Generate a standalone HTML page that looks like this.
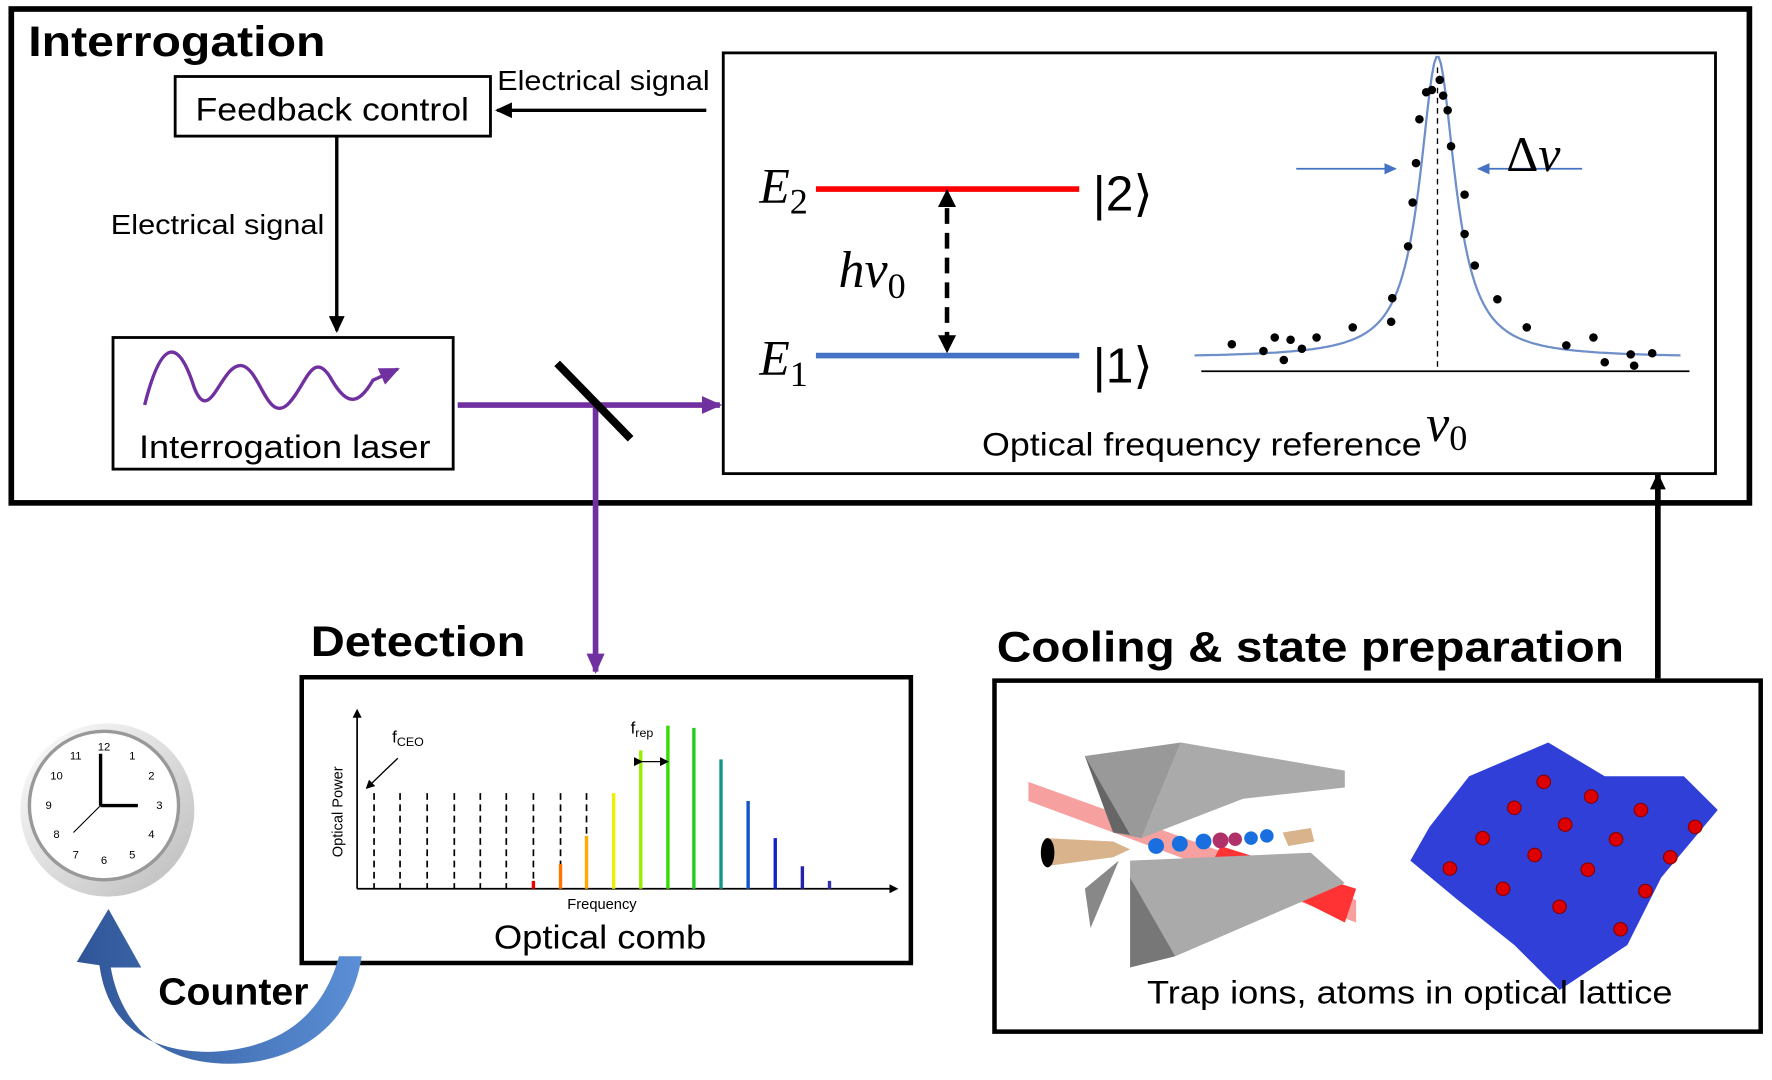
<!DOCTYPE html>
<html><head><meta charset="utf-8"><style>
html,body{margin:0;padding:0;background:#fff;}
svg{display:block;}
text{font-family:"Liberation Sans","Noto Sans CJK SC",sans-serif;}
.m{font-family:"Liberation Serif",serif;font-style:italic;}
</style></head><body>
<svg width="1772" height="1080" viewBox="0 0 1568 960" preserveAspectRatio="none" xmlns="http://www.w3.org/2000/svg">
<defs>
<marker id="ab" markerWidth="8" markerHeight="8" refX="6" refY="4" orient="auto" markerUnits="userSpaceOnUse"><path d="M0,0 L8,4 L0,8 z" fill="#000"/></marker>
<marker id="ap" markerWidth="20" markerHeight="20" refX="16" refY="10" orient="auto" markerUnits="userSpaceOnUse"><path d="M0,2 L18,10 L0,18 z" fill="#7030a0"/></marker>
<marker id="ak" markerWidth="16" markerHeight="16" refX="13" refY="8" orient="auto" markerUnits="userSpaceOnUse"><path d="M0,1 L15,8 L0,15 z" fill="#000"/></marker>
<marker id="abl" markerWidth="12" markerHeight="12" refX="10" refY="6" orient="auto" markerUnits="userSpaceOnUse"><path d="M0,1 L11,6 L0,11 z" fill="#4472c4"/></marker>
<linearGradient id="cg" x1="0" y1="0" x2="1" y2="1"><stop offset="0" stop-color="#fff"/><stop offset="1" stop-color="#bbb"/></linearGradient>
<linearGradient id="blue" x1="0" y1="0" x2="1" y2="0"><stop offset="0" stop-color="#2f5597"/><stop offset="1" stop-color="#5b8fd6"/></linearGradient>
</defs>
<rect x="10" y="8" width="1538" height="439" fill="none" stroke="#000" stroke-width="5"/>
<text x="25" y="50" font-size="38" font-weight="bold" textLength="263" lengthAdjust="spacingAndGlyphs">Interrogation</text>
<rect x="155" y="68" width="279" height="53" fill="none" stroke="#000" stroke-width="2.5"/>
<text x="173" y="107" font-size="29" textLength="242" lengthAdjust="spacingAndGlyphs">Feedback control</text>
<text x="440" y="80" font-size="25" textLength="188" lengthAdjust="spacingAndGlyphs">Electrical signal</text>
<line x1="625" y1="98" x2="440" y2="98" stroke="#000" stroke-width="3" marker-end="url(#ak)"/>
<line x1="298" y1="121" x2="298" y2="294" stroke="#000" stroke-width="3" marker-end="url(#ak)"/>
<text x="98" y="208" font-size="25" textLength="189" lengthAdjust="spacingAndGlyphs">Electrical signal</text>
<rect x="100" y="300" width="301" height="117" fill="none" stroke="#000" stroke-width="2.5"/>
<path d="M128,360 C143,300 158,300 172,345 C186,380 196,322 214,325 C230,328 236,375 254,360 C270,345 276,310 292,335 C306,360 316,362 330,338 L352,328" fill="none" stroke="#7030a0" stroke-width="3" marker-end="url(#ap)"/>
<text x="123" y="407" font-size="29" textLength="258" lengthAdjust="spacingAndGlyphs">Interrogation laser</text>
<line x1="405" y1="360" x2="637" y2="360" stroke="#7030a0" stroke-width="5" marker-end="url(#ap)"/>
<line x1="527" y1="360" x2="527" y2="597" stroke="#7030a0" stroke-width="5" marker-end="url(#ap)"/>
<line x1="493" y1="323" x2="558" y2="390" stroke="#000" stroke-width="7"/>
<rect x="640" y="47" width="878" height="374" fill="none" stroke="#000" stroke-width="2.5"/>
<line x1="722" y1="168" x2="955" y2="168" stroke="#f00" stroke-width="5"/>
<line x1="722" y1="316" x2="955" y2="316" stroke="#4472c4" stroke-width="5"/>
<text x="672" y="180" font-size="44" class="m">E<tspan font-size="32" dy="10" font-style="normal">2</tspan></text>
<text x="672" y="333" font-size="44" class="m">E<tspan font-size="32" dy="10" font-style="normal">1</tspan></text>
<text x="967" y="187" font-size="44" font-family="Liberation Serif">|2⟩</text>
<text x="967" y="340" font-size="44" font-family="Liberation Serif">|1⟩</text>
<text x="742" y="255" font-size="46" class="m">hν<tspan font-size="32" dy="10" font-style="normal">0</tspan></text>
<line x1="838" y1="185" x2="838" y2="300" stroke="#000" stroke-width="4" stroke-dasharray="14,8"/>
<path d="M838,168 l-8,16 h16 z M838,314 l-8,-16 h16 z" fill="#000"/>
<line x1="1063" y1="330" x2="1495" y2="330" stroke="#000" stroke-width="1.5"/>
<line x1="1272" y1="60" x2="1272" y2="330" stroke="#000" stroke-width="1.2" stroke-dasharray="5,4"/>
<path id="lor" fill="none" stroke="#6f8fc8" stroke-width="2"/>
<g fill="#000">
<circle cx="1090" cy="306" r="3.8"/><circle cx="1118" cy="312" r="3.8"/><circle cx="1128" cy="300" r="3.8"/><circle cx="1136" cy="320" r="3.8"/><circle cx="1142" cy="302" r="3.8"/><circle cx="1152" cy="310" r="3.8"/><circle cx="1165" cy="300" r="3.8"/><circle cx="1197" cy="291" r="3.8"/><circle cx="1231" cy="286" r="3.8"/><circle cx="1232" cy="265" r="3.8"/><circle cx="1246" cy="219" r="3.8"/><circle cx="1250" cy="180" r="3.8"/><circle cx="1253" cy="145" r="3.8"/><circle cx="1256" cy="106" r="3.8"/><circle cx="1262" cy="82" r="3.8"/><circle cx="1267" cy="80" r="3.8"/><circle cx="1274" cy="71" r="3.8"/><circle cx="1277" cy="85" r="3.8"/><circle cx="1281" cy="98" r="3.8"/><circle cx="1284" cy="130" r="3.8"/><circle cx="1296" cy="173" r="3.8"/><circle cx="1296" cy="208" r="3.8"/><circle cx="1305" cy="236" r="3.8"/><circle cx="1325" cy="266" r="3.8"/><circle cx="1351" cy="291" r="3.8"/><circle cx="1386" cy="307" r="3.8"/><circle cx="1410" cy="300" r="3.8"/><circle cx="1420" cy="322" r="3.8"/><circle cx="1443" cy="315" r="3.8"/><circle cx="1446" cy="325" r="3.8"/><circle cx="1462" cy="314" r="3.8"/>
</g>
<line x1="1147" y1="150" x2="1235" y2="150" stroke="#4472c4" stroke-width="1.5" marker-end="url(#abl)"/>
<line x1="1400" y1="150" x2="1308" y2="150" stroke="#4472c4" stroke-width="1.5" marker-end="url(#abl)"/>
<text x="1333" y="152" font-size="44" class="m"><tspan font-style="normal">Δ</tspan>ν</text>
<text x="869" y="405" font-size="29" textLength="389" lengthAdjust="spacingAndGlyphs">Optical frequency reference</text>
<text x="1262" y="392" font-size="46" class="m">ν<tspan font-size="32" dy="8" font-style="normal">0</tspan></text>
<text x="275" y="583" font-size="38" font-weight="bold" textLength="190" lengthAdjust="spacingAndGlyphs">Detection</text>
<rect x="267" y="602" width="539" height="254" fill="none" stroke="#000" stroke-width="4"/>
<line x1="316" y1="790" x2="316" y2="632" stroke="#000" stroke-width="1.5" marker-end="url(#ab)"/>
<line x1="316" y1="790" x2="793" y2="790" stroke="#000" stroke-width="1.5" marker-end="url(#ab)"/>
<g stroke="#000" stroke-width="1.5" stroke-dasharray="6,4">
<line x1="331" y1="705" x2="331" y2="790"/><line x1="354" y1="705" x2="354" y2="790"/><line x1="378" y1="705" x2="378" y2="790"/><line x1="402" y1="705" x2="402" y2="790"/><line x1="425" y1="705" x2="425" y2="790"/><line x1="448" y1="705" x2="448" y2="790"/><line x1="472" y1="705" x2="472" y2="790"/><line x1="496" y1="705" x2="496" y2="790"/><line x1="519" y1="705" x2="519" y2="790"/>
</g>
<g stroke-width="3">
<line x1="472" y1="783" x2="472" y2="790" stroke="#e00"/>
<line x1="496" y1="768" x2="496" y2="790" stroke="#f70"/>
<line x1="519" y1="743" x2="519" y2="790" stroke="#fa0"/>
<line x1="543" y1="705" x2="543" y2="790" stroke="#ee0"/>
<line x1="567" y1="667" x2="567" y2="790" stroke="#9e0"/>
<line x1="591" y1="645" x2="591" y2="790" stroke="#3d0"/>
<line x1="614" y1="647" x2="614" y2="790" stroke="#2c2"/>
<line x1="638" y1="675" x2="638" y2="790" stroke="#198"/>
<line x1="662" y1="712" x2="662" y2="790" stroke="#15c"/>
<line x1="686" y1="745" x2="686" y2="790" stroke="#12c"/>
<line x1="710" y1="770" x2="710" y2="790" stroke="#22a"/>
<line x1="734" y1="783" x2="734" y2="790" stroke="#33a"/>
</g>
<text transform="translate(303,762) rotate(-90)" font-size="13">Optical Power</text>
<text x="502" y="808" font-size="13">Frequency</text>
<text x="347" y="660" font-size="15">f<tspan font-size="11" dy="3">CEO</tspan></text>
<line x1="352" y1="674" x2="325" y2="700" stroke="#000" stroke-width="1.2" marker-end="url(#ab)"/>
<text x="558" y="652" font-size="15">f<tspan font-size="11" dy="3">rep</tspan></text>
<line x1="567" y1="677" x2="590" y2="677" stroke="#000" stroke-width="1.2" marker-end="url(#ab)" marker-start="url(#ab)"/>
<text x="437" y="843" font-size="30" textLength="188" lengthAdjust="spacingAndGlyphs">Optical comb</text>
<circle cx="95" cy="720" r="77" fill="url(#cg)"/>
<circle cx="92" cy="716" r="66" fill="#fff" stroke="#999" stroke-width="3"/>
<g font-size="10" text-anchor="middle">
<text x="92" y="667">12</text><text x="141" y="719">3</text><text x="92" y="768">6</text><text x="43" y="719">9</text>
<text x="117" y="675">1</text><text x="134" y="693">2</text><text x="134" y="745">4</text><text x="117" y="763">5</text><text x="67" y="763">7</text><text x="50" y="745">8</text><text x="50" y="693">10</text><text x="67" y="675">11</text>
</g>
<line x1="89" y1="716" x2="89" y2="670" stroke="#000" stroke-width="3"/>
<line x1="89" y1="716" x2="122" y2="716" stroke="#000" stroke-width="3"/>
<line x1="89" y1="716" x2="65" y2="740" stroke="#000" stroke-width="1"/>
<path d="M320,850 C310,920 250,950 190,945 C130,940 105,900 98,860 L125,860 L96,808 L68,855 L88,858 C95,910 130,935 185,935 C245,933 285,905 300,850 z" fill="url(#blue)"/>
<text x="140" y="893" font-size="34" font-weight="bold" textLength="133" lengthAdjust="spacingAndGlyphs">Counter</text>
<text x="882" y="588" font-size="38" font-weight="bold" textLength="555" lengthAdjust="spacingAndGlyphs">Cooling &amp; state preparation</text>
<rect x="880" y="605" width="678" height="312" fill="none" stroke="#000" stroke-width="4"/>
<line x1="1467" y1="603" x2="1467" y2="422" stroke="#000" stroke-width="5" marker-end="url(#ak)"/>
<polygon points="910,695 1200,800 1200,820 910,712" fill="#f7a0a0"/>
<polygon points="1080,752 1200,790 1190,820 1075,762" fill="#f33"/>
<polygon points="960,672 1045,660 1010,745 985,740" fill="#999"/>
<polygon points="1045,660 1190,685 1190,700 1100,710 1010,745" fill="#aaa"/>
<polygon points="960,672 985,740 1000,742" fill="#666"/>
<polygon points="1000,765 1160,758 1190,785 1040,850 1000,780" fill="#aaa"/>
<polygon points="960,790 990,765 965,825" fill="#888"/>
<polygon points="1000,780 1040,850 1000,860" fill="#777"/>
<polygon points="925,745 985,748 1000,755 985,762 925,770" fill="#d9b38c"/>
<ellipse cx="927" cy="758" rx="6" ry="13" fill="#000"/>
<polygon points="1135,740 1160,736 1163,748 1140,752" fill="#d9b38c"/>
<g fill="#1a6fe0"><circle cx="1023" cy="752" r="7"/><circle cx="1044" cy="750" r="7"/><circle cx="1065" cy="748" r="7"/><circle cx="1107" cy="745" r="6"/><circle cx="1121" cy="743" r="6"/></g>
<g fill="#b0306a"><circle cx="1080" cy="747" r="7"/><circle cx="1093" cy="746" r="6"/></g>
<polygon points="1300,690 1370,660 1420,690 1490,690 1520,720 1470,780 1440,840 1380,880 1340,840 1290,800 1248,765 1265,735" fill="#2f3fd8"/>
<g fill="#d00" stroke="#800" stroke-width="1">
<circle cx="1366" cy="695" r="6"/><circle cx="1408" cy="708" r="6"/><circle cx="1452" cy="720" r="6"/><circle cx="1500" cy="735" r="6"/>
<circle cx="1340" cy="718" r="6"/><circle cx="1385" cy="733" r="6"/><circle cx="1430" cy="746" r="6"/><circle cx="1478" cy="762" r="6"/>
<circle cx="1312" cy="745" r="6"/><circle cx="1358" cy="760" r="6"/><circle cx="1405" cy="773" r="6"/><circle cx="1456" cy="792" r="6"/>
<circle cx="1283" cy="772" r="6"/><circle cx="1330" cy="790" r="6"/><circle cx="1380" cy="806" r="6"/><circle cx="1434" cy="826" r="6"/>
</g>
<text x="1015" y="892" font-size="29" textLength="465" lengthAdjust="spacingAndGlyphs">Trap ions, atoms in optical lattice</text>
<script>
(function(){var d="";for(var x=1057;x<=1487;x+=2){var y=318-268/(1+Math.pow((x-1272)/19,2));d+=(x==1057?"M":"L")+x+","+y.toFixed(1);}document.getElementById("lor").setAttribute("d",d);})();
</script>
</svg>
</body></html>
